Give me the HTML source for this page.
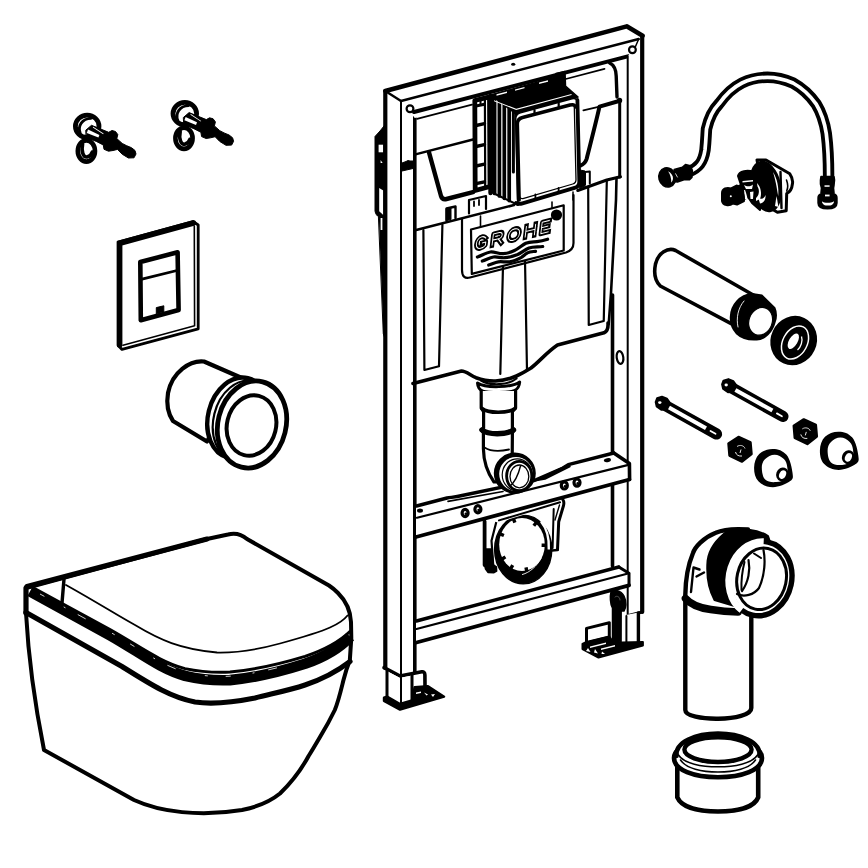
<!DOCTYPE html>
<html>
<head>
<meta charset="utf-8">
<title>Installation set</title>
<style>
html,body{margin:0;padding:0;background:#fff;}
body{width:868px;height:868px;overflow:hidden;font-family:"Liberation Sans",sans-serif;}
svg{display:block;}
.k{fill:none;stroke:#000;stroke-linecap:round;stroke-linejoin:round;}
.w{fill:#fff;stroke:#000;stroke-linecap:round;stroke-linejoin:round;}
.b{fill:#000;stroke:#000;stroke-linecap:round;stroke-linejoin:round;}
.t1{stroke-width:1.3}
.t2{stroke-width:2}
.t3{stroke-width:2.8}
.t4{stroke-width:3.6}
.t5{stroke-width:4.5}
</style>
</head>
<body>
<svg width="868" height="868" viewBox="0 0 868 868">
<rect x="0" y="0" width="868" height="868" fill="#fff"/>

<!-- ===================== SCREWS ===================== -->
<g id="screws">
<g id="screw">
  <ellipse class="w" cx="86.4" cy="151" rx="8.6" ry="10.6" stroke-width="4.6"/>
  <path class="k" d="M82.6,144 C81,152 83.5,157.5 87,157 C89.5,156.5 91.5,154.5 92.3,152" stroke-width="3.6"/>
  <ellipse class="w" cx="87.2" cy="126.3" rx="11.8" ry="11.2" stroke-width="4.8"/>
  <path class="k" d="M80.2,133 C77.5,126 82,118.5 91,118.3" stroke-width="2.8"/>
  <path class="b" d="M86,130 L91.5,125.3 L108.7,132.3 L112,130.5 L115.5,131.5 L117.8,134.6 L116.8,138.6 L122.2,143.4 L126.4,145.6 L131.5,147.7 L135,150.5 L136,154 L134,157.8 L128.4,158 L122.2,154.2 L117.5,149.4 L113,150.5 L108.5,151.2 L104,149.3 L103.3,145 L96.3,141.4 L86.5,137.5 Z" stroke-width="1"/>
  <path d="M88,129.6 L99.4,135 L98.4,137.6 L86.8,133 Z" fill="#fff"/>
  <path d="M93.2,126.8 L103.6,133.6 L103.2,134.3 L92.8,127.5 Z" fill="#fff"/>
</g>
<use href="#screw" x="97.6" y="-12.7"/>
</g>

<!-- ===================== FLUSH PLATE ===================== -->
<g id="plate">
  <path class="w" d="M118.2,242 L193,221.5 L198.2,225 L198.2,328.8 L122,349.4 L118.2,345.5 Z" stroke-width="2.8"/>
  <path class="k" d="M194.3,226 L194.6,325.8 L123,345.2" stroke-width="1.6"/>
  <path class="k" d="M119.6,345 L119.6,243.2 L193.5,223" stroke-width="5.6" stroke-linejoin="miter" style="stroke-linejoin:miter"/>
  <path class="w" d="M140.3,262 L177.6,252.3 L178.6,310 L140.8,320.2 Z" stroke-width="4.6"/>
  <path class="k" d="M142,279.2 L177,270.5" stroke-width="2.8"/>
  <path class="b" d="M156.3,314 L156.3,307.6 L163.8,305.8 L163.8,312 Z" stroke-width="1"/>
</g>

<!-- ===================== SLEEVE ===================== -->
<g id="sleeve">
  <path class="w" d="M243,378.5 L204,361.5 C190,360 172,372 168,393 C166,405 169,415 173,421 L207,441.5 Z" stroke-width="4.2"/>
  <ellipse class="w" cx="238" cy="418" rx="30" ry="41" transform="rotate(14 238 418)" stroke-width="4.4"/>
  <ellipse class="w" cx="243.5" cy="421" rx="30" ry="41" transform="rotate(14 243.5 421)" stroke-width="2.2"/>
  <ellipse class="w" cx="252" cy="424.5" rx="34" ry="44" transform="rotate(14 252 424.5)" stroke-width="4.8"/>
  <ellipse class="w" cx="251.5" cy="425.5" rx="24.5" ry="30.5" transform="rotate(14 251.5 425.5)" stroke-width="4"/>
</g>

<!-- ===================== TOILET ===================== -->
<g id="toilet">
  <!-- bowl -->
  <path class="w" stroke-width="4" d="M26,588 L26,613 C28,650 34,700 44,750 L134,800 C160,812 200,817 242,810 C262,806 272,800 280,793.5 C292,782 301,770 308.6,756 C313,749 316.5,743 320,737 C325.5,728 330.5,719 334.8,710 C338.5,701 341,690 343.5,680 C345.5,672 347.5,666 349.8,660.5 L351.3,638 L351,622 C350.6,612 346,601 338,593 C335,590 332,587.5 329,585.5 L247,539 C240,533 234,533 228,534.5 L207,539 Z"/>
  <!-- back edge thick -->
  <path class="k" d="M27,586.5 L207,539" stroke-width="5"/>
  <!-- lid front thin curve -->
  <path class="k" stroke-width="3.4" d="M64,579 L62,603"/>
  <path class="k" d="M66,585 C100,604 120,617 135,625 C160,640 180,649 217,652.5 C240,653 260,649 280,643.5 C300,638 320,632 330,627.5 C338,624 344,620 347.5,615.5" stroke-width="1.8"/>
  <!-- rim top band -->
  <path class="k" d="M30,591.3 L110,635.3 C140,652.3 160,668.8 185,675.8 C200,679.3 215,680.8 230,680.1 C255,677.8 280,671.8 305,663.8 C325,656.8 339,648.8 350.2,636.6" stroke-width="10.6" style="stroke-linecap:butt"/>
  <path class="k" d="M30,586 L110,629.6 C140,646.4 160,662 185,668.6 C200,671.8 215,672.8 230,672.1 C255,669.8 280,664 305,656.4 C325,649.6 339,642.2 350.4,631" stroke-width="3" style="stroke-linecap:butt"/>
  <path d="M40,594 L112,633.2 C142,650.2 162,666 187,672.5 C202,676 215,677 230,676.2 C255,673.8 280,667.8 305,659.8" fill="none" stroke="#fff" stroke-width="0.8" stroke-dasharray="5 22 2 14 9 30 3 18"/>
  <!-- lower rim -->
  <path class="k" d="M26,612.4 L122,666.5 C150,684 170,697 195,702 C215,705 235,702 255,698 C275,693 290,690 305,685 C320,680 335,673 350,661.5" stroke-width="5.2"/>
  <path class="k" d="M26,588 L26,613" stroke-width="5.2"/>
</g>

<!-- ===================== FRAME ===================== -->
<g id="frame">
  <!-- left bracket on post -->
  <path class="b" d="M384,126 L380,131 L375,136.5 L375,211 C375.5,214 377,216 379,217 L385,217 Z" stroke-width="1"/>
  <path class="b" d="M378.8,217 L387,217 L387,345 L383.4,334 Z" stroke-width="1"/>
  <rect x="378.6" y="144.7" width="4.6" height="7.6" fill="#fff"/>
  <path d="M380.6,160 L382.6,163 L380.6,163 Z" fill="#fff"/>
  <path d="M379.2,188 L383.3,190.5 L383.3,215 L379.2,211.3 Z" fill="#fff"/>
  <path d="M380.6,218 L382.4,218 L382.4,230 L380.6,230 Z" fill="#fff"/>

  <!-- left post -->
  <path d="M385.3,91 L401,101 L414.8,112 L414.8,672 L400.5,676 L385.3,668 Z" fill="#fff"/>
  <path class="k" d="M385.3,91 L385.3,668" stroke-width="4.2"/>
  <path class="k" d="M401,101 L401,676" stroke-width="2"/>
  <path class="k" d="M414.8,112 L414.8,672" stroke-width="3.6"/>
  <!-- small bolt on post -->
  <path class="b" d="M402,163 L406,161.5 L408,160.5 L410,161 L413,161 L413,168.5 L402,171 Z" stroke-width="1"/>

  <!-- top bar -->
  <path d="M385.3,91 L626.7,26.3 L643,35.8 L643,60 L414.8,118 L401,101 Z" fill="#fff"/>
  <path class="k" d="M385.3,91 L626.7,26.3 L642.6,35.8" stroke-width="4.5"/>
  <path class="k" d="M385.3,91 L401,101" stroke-width="2.4"/>
  <path class="k" d="M401,101 L638.7,39" stroke-width="2.4"/>
  <path class="k" d="M414,112 L628.6,56.1" stroke-width="4"/>
  <ellipse cx="513.2" cy="64.3" rx="2.1" ry="1.5" fill="#000"/>

  <!-- right post -->
  <path d="M627.7,56 L643,36 L643,612 L627.7,616 Z" fill="#fff"/>
  <path class="k" d="M642.2,35.8 L642.2,612" stroke-width="4.2"/>
  <path class="k" d="M627.7,56 L627.7,616" stroke-width="2"/>
  <circle class="w" cx="410" cy="108.7" r="3.4" stroke-width="2.2"/>
  <circle class="w" cx="632.4" cy="49.8" r="3.4" stroke-width="2.2"/>
  <path class="k" d="M638.7,39 L635.5,46.5" stroke-width="1.5"/>

    <!-- ============ TANK ============ -->
  <g id="tank">
  <!-- thin line under top bar -->
  <path class="k" d="M417,118.8 L472,104.6" stroke-width="1.8"/>
  <path class="k" d="M565.8,79 L604.5,68.8" stroke-width="1.8"/>
  <!-- tank right edge -->
  <path class="k" d="M609.6,63 C614,65 616,70 616.2,76 L617,97" stroke-width="3.4"/>
  <circle cx="619.6" cy="100.4" r="2.6" fill="#000"/>
  <path class="k" d="M619.7,101 L619.7,177" stroke-width="3"/>
  <path class="k" d="M616.5,178 L616,200 L611,293 L608.7,324" stroke-width="2.6"/>
  <!-- lid top/front boundary -->
  <path class="k" d="M416.4,154.2 L473,139.5" stroke-width="2.4"/>
  <!-- left pocket -->
  <path class="k" d="M429,152.3 L441,196 Q442.3,200 446.5,199 L473,192.2" stroke-width="4.4"/>
  <!-- right pocket -->
  <path class="k" d="M619,101 L599.5,106.6 C597,118 592.3,136.5 586.6,159 Q585,164 580.5,165.5" stroke-width="4"/>
  <path class="k" d="M599.5,106.6 L583.4,110.3" stroke-width="1.8"/>
  <!-- lid bottom edge -->
  <path class="k" d="M416.2,230 L514,205" stroke-width="2.6"/>
  <path class="k" d="M577.7,190.5 L606.8,180 L620.5,176.8" stroke-width="3"/>
  <!-- small rects -->
  <path class="k" d="M446.5,220.5 L446.5,208.5 L455.5,206.5 L455.5,218" stroke-width="2.4"/>
  <path class="b" d="M446.5,208.5 L451,207.5 L451,219.5 L446.5,220.5 Z" stroke-width="1"/>
  <path class="k" d="M469,213.5 L469,200 L486,196 L486,209" stroke-width="2.2"/>
  <path class="k" d="M474,201.5 L474,206 M479,200 L479,205" stroke-width="1.8"/>
  <path class="k" d="M585,184.5 L585,172 L589.8,171.5 L589.8,183.5" stroke-width="2"/>
  <path class="b" d="M580,170 L585,171 L585,186 L580,188 Z" stroke-width="1"/>

  <!-- left rib -->
  <path class="k" d="M423.4,230 L424.4,370 L439,366.3 L442.4,224.7" stroke-width="2.2"/>
  <!-- right rib -->
  <path class="k" d="M588.2,188 L588.75,325 L603.75,321 L606.8,181" stroke-width="2.2"/>
  <path class="k" d="M573,192 L573,200" stroke-width="1.5"/>
  <!-- center strap -->
  <path class="k" d="M503,266 L500.3,374" stroke-width="2.2"/>
  <path class="k" d="M525,260 L527,371" stroke-width="2.2"/>

  <!-- tank bottom -->
  <path class="k" d="M413,383.5 L461.5,371 C466,371 470,375 476,377.7 C484,380.5 490,381.2 495.5,381 C505,380.5 512,378 516.5,376 C522,373.5 527,370.5 531,368 C540,361 547,352 557.5,345 L604,332.8 C608,331 608.3,327 608,323" stroke-width="3.6"/>

    <!-- label plate -->
  <g id="label">
    <path class="k" d="M462,219 L462,270 Q462,279.5 470,277.5 L566,252.5 Q573.5,250 573.5,243 L573.5,195" stroke-width="2.2"/>
    <path class="w" d="M471,229.5 L563.7,205.3 L563.7,250.5 L471.8,273.9 Z" stroke-width="2.2"/>
    <path class="k" d="M480.5,216 L480.5,227" stroke-width="1.6"/>
    <path class="k" d="M552,202 L552,208.5" stroke-width="1.6"/>
    <circle cx="556.5" cy="215" r="5.6" fill="#000"/>
    <g transform="matrix(1,-0.242,-0.12,1,473.6,252) scale(1.05,1.17)" fill="none" stroke-linejoin="round">
      <path d="M10.6,-9.4 C9.4,-11 7.8,-11.6 6.4,-11.6 C3.5,-11.6 1.8,-9.4 1.8,-6.7 C1.8,-4 3.5,-1.8 6.4,-1.8 C8.2,-1.8 9.8,-2.4 10.8,-3.5 L10.8,-6.2 L7.2,-6.2 M17.3,-1.8 L17.3,-11.6 L23,-11.6 C25.2,-11.6 26,-10.3 26,-9 C26,-7.6 25.2,-6.4 23,-6.4 L17.3,-6.4 M22.6,-6.4 L26.3,-1.8 M37.6,-11.6 C34.6,-11.6 32.4,-9.6 32.4,-6.7 C32.4,-3.8 34.6,-1.8 37.6,-1.8 C40.6,-1.8 42.8,-3.8 42.8,-6.7 C42.8,-9.6 40.6,-11.6 37.6,-11.6 Z M48.8,-1.8 L48.8,-11.6 M57.6,-1.8 L57.6,-11.6 M48.8,-6.9 L57.6,-6.9 M71,-11.6 L63.8,-11.6 L63.8,-1.8 L71.2,-1.8 M63.8,-6.9 L70.2,-6.9" stroke="#000" stroke-width="4.3" stroke-linecap="square"/>
      <path d="M10.6,-9.4 C9.4,-11 7.8,-11.6 6.4,-11.6 C3.5,-11.6 1.8,-9.4 1.8,-6.7 C1.8,-4 3.5,-1.8 6.4,-1.8 C8.2,-1.8 9.8,-2.4 10.8,-3.5 L10.8,-6.2 L7.2,-6.2 M17.3,-1.8 L17.3,-11.6 L23,-11.6 C25.2,-11.6 26,-10.3 26,-9 C26,-7.6 25.2,-6.4 23,-6.4 L17.3,-6.4 M22.6,-6.4 L26.3,-1.8 M37.6,-11.6 C34.6,-11.6 32.4,-9.6 32.4,-6.7 C32.4,-3.8 34.6,-1.8 37.6,-1.8 C40.6,-1.8 42.8,-3.8 42.8,-6.7 C42.8,-9.6 40.6,-11.6 37.6,-11.6 Z M48.8,-1.8 L48.8,-11.6 M57.6,-1.8 L57.6,-11.6 M48.8,-6.9 L57.6,-6.9 M71,-11.6 L63.8,-11.6 L63.8,-1.8 L71.2,-1.8 M63.8,-6.9 L70.2,-6.9" stroke="#fff" stroke-width="0.9" stroke-linecap="butt"/>
    </g>
    <path class="k" d="M477.4,257 C482,255.5 486,252.5 490.3,252 C495,251.5 498,254 503.2,253.7 C508,253.3 511,252.2 514.5,250.5 C519,248.5 522,245 525.8,243.2 C530,241.5 533,242 537,241.6 C541,241.2 544,240.4 547.6,239.2" stroke-width="3.2"/>
    <path class="k" d="M482.3,261 C486,260 489.5,257.5 493.5,257 C497.5,256.5 500.5,258 504.8,257.7 C509.5,257.3 513.5,256.3 517.7,254.5 C522,252.5 525,249.5 529,248 C533.5,246.5 538,247.2 542.7,246.5" stroke-width="3.2"/>
    <path class="k" d="M488.7,265 C492,264 495,262.2 498.4,261.8 C502.5,261.4 505.5,262.3 509.7,261.8 C514,261.3 517.5,259.5 521,257.7 C523.5,256.3 525,254.2 527.4,252.9 C530,251.7 532.5,251.7 535.5,251.3" stroke-width="3.2"/>
  </g>


    <!-- actuator box -->
  <g id="box">
    <!-- hinge strip -->
    <path class="w" d="M474.8,100.5 L489.5,96.8 L490,186.5 L475.2,190.5 Z" stroke-width="4.8"/>
    <path class="k" d="M484.9,99 L485.2,187" stroke-width="2.2"/>
    <path class="k" d="M476,125.5 L484.5,123.7 M476,146.5 L484.5,144.7 M476,166 L484.5,164.2 M476,183.6 L484.5,181.8" stroke-width="3.4"/>
    <path class="k" d="M476,106 L484.5,104.2" stroke-width="3"/>
    <path class="k" d="M480.5,98.5 L480.5,104" stroke-width="2"/>
    <path class="k" d="M490.5,96 L490.5,193" stroke-width="4.4"/>
    <!-- left side with ribs -->
    <path class="w" d="M492.5,96 L516,113.5 L518,205 L493,193 Z" stroke-width="2"/>
    <path class="k" d="M494.6,98 L494.6,193.5 M499.4,101.5 L499.4,196 M504.3,105 L504.3,198.3 M509.2,108.5 L509.2,200.6" stroke-width="3.7"/>
    <path class="k" d="M513.4,112 L513.4,172" stroke-width="3"/>
    <!-- top face (dark grille) -->
    <path class="b" d="M491.5,94.7 L556,77 L556,73.5 L565,71.5 L565.5,86 L578,97 L516,113.8 Z" stroke-width="1.5"/>
    <path d="M496.5,94.3 L507,91.5 L507,92.9 L496.5,95.7 Z M515,89.4 L524.5,86.9 L524.5,88.3 L515,90.8 Z M539,82.6 L548,80.2 L548,81.7 L539,84.1 Z" fill="#fff"/>
    <path d="M494,100.2 L516.2,108.8 L571.5,94 L571.6,95 L516.2,109.9 L494,101.3 Z" fill="#fff"/>
    <!-- front face -->
    <path class="w" d="M520.5,112.8 L572,98.8 Q577.2,97.5 577.4,102.5 L579.3,181.5 Q579.4,186.6 574.5,187.9 L522.5,203.2 Q517.8,204.5 517.6,199.5 L515.7,119 Q515.6,114 520.5,112.8 Z" stroke-width="1.6"/>
    <path class="k" d="M577.4,100 L579.3,181.5 Q579.4,186.6 574.5,187.9 L522.5,203.4 Q518.5,204.5 516,203" stroke-width="3.8"/>
    <path class="k" d="M519.2,200 L517.4,124 Q517.4,118.8 522.5,117.5 L570,105 Q574.6,103.8 575.6,107" stroke-width="3.4"/>
    <path class="k" d="M574.3,107 L576,179.5 Q576.1,183 572.8,184 L523.8,198.3 Q520.6,199.2 519.6,197" stroke-width="1.3"/>
    <path class="k" d="M534.5,110 L534.5,114.5 M558.7,103.6 L558.7,108" stroke-width="2.2"/>
    <path class="k" d="M535.4,198.5 L535.4,194.5 M558.6,192 L558.6,188" stroke-width="1.8"/>
  </g>



  </g>


  <!-- right post inner thick line (lower part) -->
  <path class="k" d="M612.5,295 L612.5,566" stroke-width="3.6"/>
  <ellipse class="w" cx="620" cy="357.5" rx="3.3" ry="6.5" stroke-width="2.2" transform="rotate(-8 620 357.5)"/>

    <!-- ============ WASTE BRACKET + RING ============ -->
  <g id="wastebracket">
    <!-- ring -->
    <ellipse class="b" cx="523.2" cy="549.5" rx="28.6" ry="34.4" stroke-width="1.4"/>
    <ellipse cx="522" cy="544.5" rx="22.8" ry="26.6" fill="#fff"/>
    <path d="M541,521.5 C546.5,528 549.3,538 548.8,549.5" fill="none" stroke="#fff" stroke-width="2.4"/>
    <path d="M522,574.6 C530,572.5 537,566 541.5,557.5" fill="none" stroke="#fff" stroke-width="0.9"/>
    <path d="M500.0,533.9 L503.9,535.5 M501.8,559.2 L505.4,556.9 M510.7,568.8 L512.7,565.1 M526.8,571.5 L526.0,567.4 M545.8,545.3 L541.6,545.2 M536.3,522.5 L533.8,525.8 M513.4,518.8 L514.9,522.7" fill="none" stroke="#000" stroke-width="3.4" stroke-linecap="butt"/>
    <!-- left leg -->
    <path d="M484.6,521 L497.5,518 L491.5,540.7 L493.4,565 L484.6,565 Z" fill="#fff"/>
    <path class="k" d="M484.6,521.5 L484.6,565" stroke-width="3.8"/>
    <path class="k" d="M497.2,518.5 L491.5,540.7 L493.2,565" stroke-width="2.2"/>
    <path class="b" d="M484.6,549 L491.6,549 L493.4,565 L496.4,567 L496.6,571 L494,572.6 L488,572.4 L485.6,569 L484.6,565 Z" stroke-width="1.6"/>
    <!-- top plate -->
    <path d="M484.5,519 L563,498.5 L563,503 L498,522.5 Z" fill="#fff"/>
    <path class="k" d="M499,520.4 L560,502.3" stroke-width="2"/>
    <!-- right leg -->
    <path d="M563.8,502.7 L558.7,521.7 L557.5,549.6 L552.4,548 L553.7,509 Z" fill="#fff"/>
    <path class="k" d="M562.8,499.5 C564.5,502 564,504 563.4,506 L558.7,521.7 L557.5,549.6" stroke-width="3"/>
    <path class="k" d="M553.7,509 L552.6,548" stroke-width="2"/>
    <path class="k" d="M559.5,505 L555,520" stroke-width="1.4"/>
    <path class="k" d="M552,550.5 L557.5,550" stroke-width="2.6"/>
  </g>

  <!-- ============ UPPER CROSS BAR ============ -->
  <g id="bar1">
    <path d="M416,506 L613.8,453 L629.4,464.6 L629.4,479.5 L416,537 Z" fill="#fff"/>
    <path class="k" d="M416.5,506 L447,498 C452,497.2 456,497 462,495.5 L533.7,480.7 L563,468 L568.3,464.6 L613.8,453" stroke-width="3.4"/>
    <path class="b" d="M533.7,481 L550,473.5 L563.7,467 L568.5,464.5 L570,466.5 L545,479 Z" stroke-width="1.5"/>
    <path class="k" d="M448,501.4 L503,491.5" stroke-width="1.6"/>
    <path class="k" d="M613.8,453 L629.4,463.6 L629.6,479.5" stroke-width="3.6"/>
    <path class="k" d="M417,517.7 L629.4,464.6" stroke-width="2.2"/>
    <path class="k" d="M416,537 L629.4,479.5" stroke-width="3.8"/>
    <ellipse cx="607.4" cy="460.2" rx="3.6" ry="2" fill="#000" transform="rotate(-10 607.4 460.2)"/>
    <ellipse cx="420" cy="510.6" rx="3" ry="2.2" fill="#000"/>
    <g fill="#fff" stroke="#000" stroke-width="3.2">
      <ellipse cx="465.1" cy="513" rx="3" ry="3.6"/>
      <ellipse cx="477.9" cy="509.3" rx="3" ry="3.6"/>
      <ellipse cx="564.3" cy="485.4" rx="3" ry="3.6"/>
      <ellipse cx="577" cy="482.6" rx="3" ry="3.6"/>
    </g>
    <g fill="#000">
      <circle cx="465.8" cy="513.8" r="1.3"/><circle cx="478.6" cy="510.1" r="1.3"/><circle cx="565" cy="486.2" r="1.3"/><circle cx="577.7" cy="483.4" r="1.3"/>
    </g>
  </g>

  <!-- flush pipe -->
  <g id="flushpipe">
    <path class="w" d="M477.5,383 C478,392 484,392.5 499,392.5 C513,392.5 519,391 519.7,382 C512,387.5 486,388.5 477.5,383 Z" stroke-width="3"/>
    <path class="k" d="M481,380.5 C490,386 508,385.5 516.5,378.5" stroke-width="2.2"/>
    <path class="w" d="M481.2,391 L481.2,408 L483.6,411.6 L483.6,428 L481.2,429.6 L483.4,433 L483.4,448.7 C483.6,462 487,472 494,482 L512,482 L512.4,433 L514.2,429.5 L512.4,428 L512.4,411.6 L515.6,408 L515.6,391" stroke-width="3.2"/>
    <path class="k" d="M482,408.5 C488,413.5 508,413.5 515,408.5" stroke-width="3.6"/>
    <path class="k" d="M482,430 C488,435 506,435 513.5,430" stroke-width="5.4"/>
    <path class="k" d="M484.5,447.5 C490,451 500,451.5 509,449.5" stroke-width="1.8"/>
    <ellipse class="b" cx="514.8" cy="473.2" rx="20.2" ry="19.8" stroke-width="1.6"/>
    <ellipse cx="516" cy="474" rx="16.8" ry="17" fill="#fff"/>
    <ellipse class="k" cx="517.2" cy="474.8" rx="15" ry="16" stroke-width="1.2"/>
    <ellipse class="w" cx="519.2" cy="476" rx="12.6" ry="14.6" stroke-width="2.8"/>
    <ellipse class="k" cx="519.4" cy="476.4" rx="9.4" ry="11.4" stroke-width="1.3"/>
    <path class="k" d="M520.5,466 C518,476 514,483 509.5,486.5" stroke-width="1.4"/>
  </g>

  <!-- ============ LOWER CROSS BAR ============ -->
  <g id="bar2">
    <path d="M416,621 L618.8,567 L629,573.3 L629,585.3 L416,642.5 Z" fill="#fff"/>
    <path class="k" d="M416.5,621 L618.8,567" stroke-width="3.4"/>
    <path class="k" d="M618.8,567 L629,573.3 L629,585.3" stroke-width="3"/>
    <path class="k" d="M416.5,629 L629,573.3" stroke-width="2.2"/>
    <path class="k" d="M416.5,642.5 L629,585.3" stroke-width="3.8"/>
  </g>

  <!-- ============ RIGHT FOOT ============ -->
  <g id="rfoot">
    <path class="k" d="M642.2,612 L627.7,615.8" stroke-width="3"/>
    <path d="M620.7,616 L638.4,612.5 L638.4,644 L620.7,648 Z" fill="#fff"/>
    <path class="k" d="M638.4,613 L638.4,643.6" stroke-width="3.4"/>
    <path class="k" d="M626.4,616 L626.4,646" stroke-width="2"/>
    <path class="k" d="M620.7,610 L620.7,646" stroke-width="2"/>
    <path class="b" d="M611,592 C613,589 621,590 624,596 C627,602 626,608 624,611 L621,611 L620.7,641 L612.5,641 L612.5,608 C610,604 610,596 611,592 Z" stroke-width="1.5"/>
    <path class="k" d="M615,597 C617,595 620,597 620,600" stroke="#fff" style="stroke:#555" stroke-width="1"/>
    <!-- tab -->
    <path class="w" d="M586.5,628.4 L609.3,622.7 L609.3,637.3 L586.5,643 Z" stroke-width="3"/>
    <!-- base -->
    <path class="b" d="M582.5,644 L586.5,642 L609.3,636.5 L612.5,641 L622,642.5 L642.9,642 L642.9,645.5 L598.5,657.6 L582.5,649 Z" stroke-width="2"/>
    <path d="M590,646.5 L606,642.5 L606,644 L590,648 Z M601,648.5 L615,645 L615,646.5 L601,650 Z" fill="#fff"/>
    <path d="M588,648 L590.5,652 L586,651 Z M595,649 L598,653.5 L594,652.5 Z M602,651.5 L605,654 L601.5,654 Z" fill="#fff"/>
  </g>

  <!-- ============ LEFT FOOT ============ -->
  <g id="lfoot">
    <path class="k" d="M384,667.6 L400,676 L421.8,671.8 Q424.8,671.5 424.9,675 L425,686" stroke-width="3.6"/>
    <path d="M387,671 L400,678 L412,675.5 L412,700 L400,704 L387,697.7 Z" fill="#fff"/>
    <path class="k" d="M387,670.7 L387,698" stroke-width="3"/>
    <path class="k" d="M401,677 L401,705" stroke-width="2"/>
    <path class="k" d="M412,675 L412,700" stroke-width="3"/>
    <path d="M414.6,677 L422.5,675.5 L422.5,686 L414.6,687 Z" fill="#fff"/>
    <path class="b" d="M384,697.7 L387,696.5 L400,704 L412,700.5 L414.6,687.3 L428,686.3 L444.1,696.7 L400,709.6 L384,701 Z" stroke-width="2.4"/>
    <path d="M416,692.5 L421,691.5 L421,693 L416,694 Z M424,692.5 L428,694.5 L426.5,695.5 Z M431,694.5 L435,694 L433,697 Z" fill="#fff"/>
  </g>

</g>


<!-- ===================== HOSE ===================== -->
<g id="hose">
  <path class="k" d="M689,171.8 C698,168 703,163 705,150 C706,140 706,136 706.5,129 C709,118 713,110 719,103.8 C726,94 733,87.5 742,83 C750,79 758,77.3 767.5,77.3 C777,77.3 785,79.5 793,83 C803,88.5 810,95.5 816,103.8 C821,112 824.5,122 826.3,133.7 C828,147 828.6,160 828.6,175.2" stroke-width="11.4"/>
  <path class="k" d="M689,171.8 C698,168 703,163 705,150 C706,140 706,136 706.5,129 C709,118 713,110 719,103.8 C726,94 733,87.5 742,83 C750,79 758,77.3 767.5,77.3 C777,77.3 785,79.5 793,83 C803,88.5 810,95.5 816,103.8 C821,112 824.5,122 826.3,133.7 C828,147 828.6,160 828.6,176.5" stroke-width="3.7" style="stroke:#fff"/>
  <!-- left end -->
  <path class="b" d="M674.2,169.4 L682.3,167.3 L685.5,164.5 L690.3,165.7 L692.3,170.2 L691.9,177.4 L689.5,179.8 L684.7,179.4 L677.4,181.9 L674,181.5 Z" stroke-width="1.6"/>
  <ellipse class="b" cx="667.3" cy="177.4" rx="8.4" ry="9.7" stroke-width="1.6" transform="rotate(-15 667.3 177.4)"/>
  <path d="M668.1,171.2 C671.5,173 673.2,176 673,178.5 C672.8,180.5 672,182 671.3,182.4 C671.3,178 670.3,174.5 668.1,171.2 Z" fill="#fff"/>
  <path d="M675.4,173.4 L677.6,177.4" fill="none" stroke="#fff" stroke-width="0.8"/>
  <!-- right end -->
  <path class="b" d="M821,176.5 L834,176.5 L834.5,180 L834,185 L833.5,188 L834,193 L821,193 L821.5,188 L820.5,184 L820.5,180 Z" stroke-width="1.6"/>
  <path d="M824.5,185.3 L829.6,185.3 L829.6,186.8 L824.5,186.8 Z" fill="#fff"/>
  <path class="b" d="M818.3,198 C818.3,194 822,193.5 827.5,193.5 C833,193.5 836.7,194 836.7,198 L836.7,203 C836.7,207.5 832,208.6 827.5,208.6 C823,208.6 818.3,207.5 818.3,203 Z" stroke-width="2"/>
  <path d="M825,194.6 L829.6,194.6 L829.6,196.4 L825,196.4 Z" fill="#fff"/>
  <path d="M822,201.2 C824,203.2 831,203.2 834,201.2 C834,204.5 831,205.6 828,205.6 C825,205.6 822,204.5 822,201.2 Z" fill="#fff"/>
</g>

<!-- ===================== VALVE ===================== -->
<g id="valve">
  <!-- back plate -->
  <path class="w" d="M757,160 L766,160 L789.8,173.8 C792,177 793,181 792.4,184 C792,188 790.9,191.5 786.7,193.5 L786.2,210.7 L777.4,212.2 L765,205 Z" stroke-width="3"/>
  <path class="k" d="M780.5,172 L781.5,208" stroke-width="2.4"/>
  <path class="k" d="M786.5,180 C788,184 788,188 786.7,191" stroke-width="1.6"/>
  <!-- disc -->
  <ellipse class="b" cx="765.6" cy="186.5" rx="14.6" ry="25" stroke-width="2" transform="rotate(-12 765.6 186.5)"/>
  <path d="M773,172 C777,178 779.2,188 778.2,196 C776.5,186 775.5,180 773,172 Z" fill="#fff"/>
  <path d="M776.5,196 L778.5,207 L775,206 Z" fill="#fff"/>
  <!-- body -->
  <path class="b" d="M738,176 C739,171 748,169.5 753,172 L757,166 L765,168 L760,210 L752,203 L748,197 L744,199 L738,200 L735,188 L741,185 Z" stroke-width="2"/>
  <path d="M742.5,181 L753,180 L753,181.5 L742.5,182.5 Z M744,185 C747,187 751,186.5 753,184.5 L752,189 L746,189 Z" fill="#fff"/>
  <path d="M742.5,190 C744,193 745,196 745,199 L747.5,199 C747,195.5 746,192.5 745,190 Z M750,192 L753.5,191.5 L753,199 L750.5,199 Z" fill="#fff"/>
  <path d="M757,183 C761,187 762,194 760,199 L756,201 L756,198 C759,196 760,190 757.5,186.5 Z" fill="#fff"/>
  <path d="M758,197 C761,200 764,199 765.5,195 C766,199 764,203 760,203.5 Z" fill="#fff"/>
  <!-- knob -->
  <path class="b" d="M722,193 C722,188.5 727,187 731,188.5 L737,185.5 L743,189 L744,201 L737,204.5 L733,203.5 C729,206.5 723,205.5 722,201 Z" stroke-width="2"/>
  <circle cx="730.8" cy="196.3" r="1" fill="#fff"/>
</g>

<!-- ===================== PIPE + RING ===================== -->
<g id="pipe">
  <path class="w t4" d="M754.5,295.8 L675.6,250.5 C668,247 658,253 655.5,264 C653.5,274 656,282 660.3,286 L732.6,324.3 Z"/>
  <path class="b" d="M730.8,316.8 C731,305 740,295 752,294 L762,295.6 L774.5,308 C776.2,312 776.2,318 774.7,322 C772,332 765,339.2 756.8,339.4 C748,340 741,337.5 736.5,333.2 C732,328 730.5,322 730.8,316.8 Z" stroke-width="2"/>
  <path class="k" d="M744,301 C738,308 736,318 738,327" style="stroke:#fff" stroke-width="0.9"/>
  <ellipse class="w" cx="760.6" cy="321.3" rx="11.6" ry="14.2" stroke-width="1.2" transform="rotate(22 760.6 321.3)"/>
</g>
<g id="rubber">
  <ellipse class="b" cx="793.7" cy="340.6" rx="22" ry="24" stroke-width="2" transform="rotate(25 793.7 340.6)"/>
  <ellipse cx="795" cy="342.5" rx="12.2" ry="17.6" fill="none" stroke="#fff" stroke-width="1.5" transform="rotate(28 795 342.5)"/>
  <ellipse cx="793.3" cy="341.2" rx="4.3" ry="8.6" fill="#fff" transform="rotate(30 793.3 341.2)"/>
  <path d="M801.5,336.5 C803,341 801,347 797.5,350" fill="none" stroke="#fff" stroke-width="1.3"/>
</g>

<!-- ===================== BOLTS ===================== -->
<g id="bolts">
<g id="bolt">
  <path class="k" d="M662,403.6 L716.5,434" stroke-width="11.2"/>
  <path class="k" d="M669,407.5 L706,428.2" stroke-width="4" stroke-linecap="butt" style="stroke:#fff;stroke-linecap:butt"/>
  <path class="b" d="M657,398 L662,396.5 L667,398.5 L669.5,402 L666,409.5 L661.5,410 L656.5,406.5 L655.5,402 Z" stroke-width="1.6"/>
  <ellipse cx="659.8" cy="402.6" rx="1.7" ry="1.4" fill="#fff"/>
  <path class="k" d="M710.5,431 L715.5,433.8" stroke-width="1.8" stroke-linecap="butt" style="stroke:#fff"/>
</g>
<use href="#bolt" x="66.4" y="-17.6"/>
<g id="nut">
  <path class="b" d="M728.5,443.5 L738.5,437 L750.5,442.5 L751.5,454 L742,461.5 L729.5,455.5 Z" stroke-width="2.5"/>
  <path d="M737,446.5 C740,444.5 744,445.5 745,448.5" fill="none" stroke="#fff" stroke-width="0.8"/>
  <path d="M735.5,452 C736,455 739,456.5 742,456" fill="none" stroke="#fff" stroke-width="0.9"/>
  <path d="M741,449.5 L740,453" fill="none" stroke="#fff" stroke-width="0.9"/>
</g>
<use href="#nut" x="65.3" y="-17.6"/>
<g id="cap">
  <path d="M772.9,448.9 C777.9,449.0 782.9,450.4 786.5,454.8 C790.1,459.2 791.9,467.8 792.5,472.7 C793.1,477.6 793.5,478.6 789.9,481.3 C786.3,484.0 778.7,487.2 772.9,487.2 C767.1,487.2 761.8,484.9 758.4,481.3 C755.0,477.7 754.0,472.6 754.1,467.6 C754.2,462.6 755.8,457.4 759.2,454.0 C762.6,450.6 767.9,448.8 772.9,448.9 Z" fill="#000"/>
  <path d="M774.6,454.8 C778.0,454.8 781.6,456.8 783.9,459.1 C786.2,461.4 786.9,464.1 787.3,467.6 C787.7,471.1 788.0,475.3 786.0,478.0 C784.0,480.7 780.1,481.8 776.3,482.1 C772.5,482.4 767.9,482.3 765.2,479.6 C762.5,476.9 761.8,471.4 761.8,467.6 C761.8,463.8 762.9,461.4 765.2,459.1 C767.5,456.8 771.2,454.8 774.6,454.8 Z" fill="#fff"/>
  <ellipse cx="782.4" cy="474.4" rx="6.2" ry="7" fill="#000" transform="rotate(20 782.4 474.4)"/>
  <ellipse cx="782.6" cy="474.6" rx="3.3" ry="4.5" fill="#fff" transform="rotate(25 782.6 474.6)"/>
</g>
<use href="#cap" x="65.8" y="-17.2"/>
</g>

<!-- ===================== WASTE ELBOW ===================== -->
<g id="welbow">
  <path class="w" d="M685.3,595 L685.3,710 C685.3,722 751.3,722 751.3,708 L751.3,616 L748,529.5 C735,528.5 722,530 715.8,532.8 C703,538 695,547 693,553 C688,565 685.5,580 685.3,595 Z" stroke-width="4.4"/>
  <path class="k" d="M685.5,598.5 C691,605 700,608 710.7,609.6 C722,611.6 730,612 738,612" stroke-width="7.6"/>
  <path class="k" d="M691,592 L693.5,567.5 L699.5,569.5 M696.5,576.5 L704,572.5" stroke-width="2.4"/>
  <!-- black band -->
  <path class="b" d="M728.4,530.3 C718,538 709,548 707.6,560.7 C706.4,575 709,590 714.5,600 L738,607 L745,560 L772,548 L768,536 C758,529.5 740,527.5 728.4,530.3 Z" stroke-width="2"/>
  <!-- flange -->
  <ellipse class="w" cx="760.3" cy="578.6" rx="31.4" ry="37.4" stroke-width="5.4" transform="rotate(12 760.3 578.6)"/>
  <path d="M763.7,541.5 A31.4,37.4 12 0 0 741.6,610.1" fill="none" stroke="#fff" stroke-width="6.6" stroke-linecap="butt"/>
  <ellipse class="w" cx="761.6" cy="578.8" rx="24.6" ry="31" stroke-width="3" transform="rotate(12 761.6 578.8)"/>
  <path class="k" d="M763.5,550 C765.5,560 765,575 759,588 C754,595 744,597.5 737,594" stroke-width="2.2"/>
  <path class="k" d="M748.5,560 C750.5,570 748.5,582 742,591" stroke-width="2.2"/>
  <path class="k" d="M744.5,562 C742,572 741,580 741.5,590" stroke-width="2"/>
  <path class="k" d="M754,553.5 L761,558" stroke-width="2"/>
</g>

<!-- ===================== SOCKET ===================== -->
<g id="socket">
  <path class="w" d="M677.3,765 L677.3,797.4 C682,808 700,811.5 718,811.5 C736,811.5 754,808 758.2,797.4 L758.2,765 Z" stroke-width="4.6"/>
  <path class="w" d="M678,750 C675.2,752 674,755 674,758 C674,770 694,777.2 718,777.2 C742,777.2 762,770 762,758 C762,755 760.8,752 758,750 Z" stroke-width="4.6"/>
  <path class="k" d="M680.5,760 C686,768.5 702,772 718,772 C734,772 750,768.5 755.5,760" stroke-width="1.5"/>
  <ellipse cx="718" cy="750.2" rx="40.4" ry="16.6" fill="#fff"/>
  <path class="k" d="M676.5,756 C675,742 696,733.6 718,733.6 C740,733.6 761,742 759.5,756" stroke-width="4.6"/>
  <path class="k" d="M678.5,755 C684,763.8 702,766.8 718,766.8 C734,766.8 752,763.8 757.5,755" stroke-width="1.5"/>
  <ellipse class="w" cx="718" cy="749.6" rx="33.6" ry="12.4" stroke-width="4.4"/>
</g>


</svg>
</body>
</html>
